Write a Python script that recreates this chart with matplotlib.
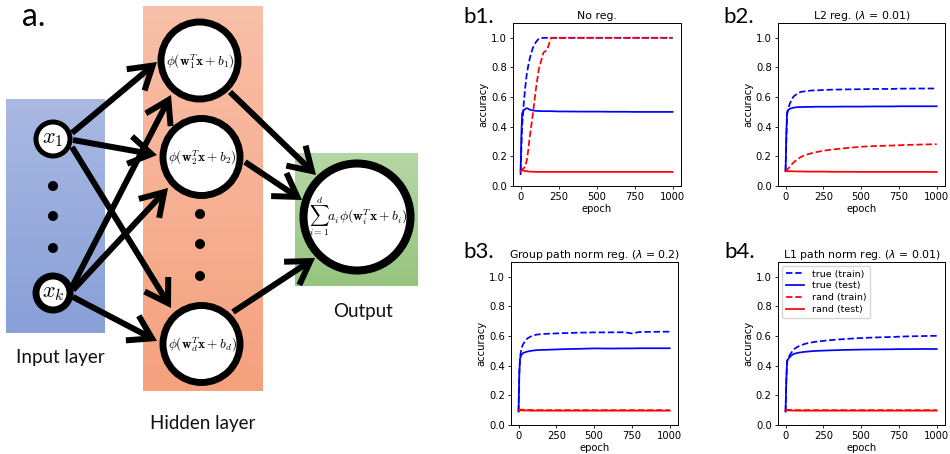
import numpy as np
import matplotlib
matplotlib.use("Agg")
import matplotlib.pyplot as plt
from matplotlib.patches import Circle, FancyArrowPatch

# ---------------- data ----------------
epochs = [0, 5, 10, 20, 30, 40, 50, 60, 80, 100, 120, 150, 175, 200, 250, 300,
          400, 500, 600, 700, 750, 800, 900, 1000]

b1_true_train = [0.10, 0.25, 0.40, 0.55, 0.66, 0.75, 0.81, 0.86, 0.93, 0.97, 0.995, 1.0, 1.0, 1.0,
                 1.0, 1.0, 1.0, 1.0, 1.0, 1.0, 1.0, 1.0, 1.0, 1.0]
b1_true_test = [0.08, 0.35, 0.49, 0.51, 0.52, 0.525, 0.522, 0.515, 0.51, 0.507, 0.506, 0.505, 0.505,
                0.505, 0.503, 0.503, 0.502, 0.502, 0.501, 0.501, 0.500, 0.500, 0.500, 0.500]
b1_rand_train = [0.10, 0.10, 0.11, 0.12, 0.13, 0.17, 0.24, 0.33, 0.48, 0.65, 0.79, 0.90, 0.92, 1.0,
                 1.0, 1.0, 1.0, 1.0, 1.0, 1.0, 1.0, 1.0, 1.0, 1.0]
b1_rand_test = [0.10, 0.105, 0.105, 0.105, 0.10, 0.10, 0.098, 0.097, 0.096, 0.096, 0.095, 0.095, 0.095,
                0.095, 0.095, 0.095, 0.095, 0.095, 0.095, 0.095, 0.095, 0.095, 0.095, 0.095]

b2_true_train = [0.10, 0.30, 0.48, 0.53, 0.56, 0.58, 0.60, 0.61, 0.625, 0.635, 0.638, 0.642, 0.645,
                 0.645, 0.648, 0.65, 0.652, 0.653, 0.655, 0.655, 0.657, 0.657, 0.658, 0.658]
b2_true_test = [0.10, 0.35, 0.50, 0.515, 0.522, 0.525, 0.528, 0.53, 0.532, 0.533, 0.533, 0.534, 0.534,
                0.535, 0.535, 0.535, 0.536, 0.536, 0.537, 0.537, 0.538, 0.538, 0.538, 0.538]
b2_rand_train = [0.10, 0.10, 0.11, 0.12, 0.13, 0.145, 0.155, 0.165, 0.18, 0.195, 0.205, 0.215, 0.222,
                 0.228, 0.238, 0.245, 0.256, 0.265, 0.27, 0.273, 0.275, 0.277, 0.28, 0.282]
b2_rand_test = [0.10, 0.10, 0.10, 0.10, 0.10, 0.099, 0.099, 0.099, 0.098, 0.098, 0.098, 0.097, 0.097,
                0.097, 0.097, 0.096, 0.096, 0.095, 0.095, 0.095, 0.095, 0.095, 0.095, 0.095]

b3_true_train = [0.09, 0.35, 0.46, 0.52, 0.545, 0.56, 0.575, 0.585, 0.597, 0.605, 0.61, 0.613, 0.615,
                 0.616, 0.618, 0.62, 0.623, 0.625, 0.625, 0.626, 0.618, 0.628, 0.629, 0.63]
b3_true_test = [0.09, 0.35, 0.45, 0.475, 0.485, 0.49, 0.493, 0.496, 0.50, 0.503, 0.505, 0.507, 0.507,
                0.508, 0.51, 0.512, 0.514, 0.517, 0.516, 0.517, 0.517, 0.518, 0.518, 0.518]
b3_rand_train = [0.10, 0.105, 0.104, 0.103, 0.103, 0.102, 0.102, 0.101, 0.101, 0.101, 0.101, 0.10, 0.10,
                 0.10, 0.10, 0.10, 0.10, 0.10, 0.10, 0.10, 0.10, 0.10, 0.10, 0.10]
b3_rand_test = [0.10, 0.10, 0.099, 0.099, 0.098, 0.098, 0.098, 0.098, 0.097, 0.097, 0.097, 0.097, 0.097,
                0.097, 0.097, 0.097, 0.097, 0.097, 0.097, 0.097, 0.097, 0.097, 0.097, 0.097]

b4_true_train = [0.09, 0.30, 0.43, 0.46, 0.475, 0.49, 0.505, 0.515, 0.528, 0.537, 0.545, 0.553, 0.558,
                 0.562, 0.568, 0.573, 0.581, 0.587, 0.591, 0.594, 0.596, 0.598, 0.60, 0.602]
b4_true_test = [0.09, 0.30, 0.43, 0.45, 0.46, 0.47, 0.477, 0.481, 0.487, 0.49, 0.493, 0.496, 0.498,
                0.50, 0.502, 0.504, 0.507, 0.509, 0.51, 0.511, 0.512, 0.512, 0.513, 0.513]
b4_rand_train = [0.10, 0.104, 0.103, 0.102, 0.102, 0.101, 0.101, 0.101, 0.10, 0.10, 0.10, 0.10, 0.10,
                 0.10, 0.10, 0.10, 0.10, 0.10, 0.10, 0.10, 0.10, 0.10, 0.10, 0.10]
b4_rand_test = [0.10, 0.10, 0.099, 0.098, 0.098, 0.098, 0.097, 0.097, 0.097, 0.097, 0.097, 0.097, 0.097,
                0.097, 0.097, 0.097, 0.097, 0.097, 0.097, 0.097, 0.097, 0.097, 0.097, 0.097]

panel_titles = ["No reg.", r"L2 reg. ($\lambda$ = 0.01)",
                r"Group path norm reg. ($\lambda$ = 0.2)", r"L1 path norm reg. ($\lambda$ = 0.01)"]
panel_tags = ["b1.", "b2.", "b3.", "b4."]
series_labels = ["true (train)", "true (test)", "rand (train)", "rand (test)"]
xtick_vals = [0, 250, 500, 750, 1000]
ytick_vals = [0.0, 0.2, 0.4, 0.6, 0.8, 1.0]

panels = [
    (b1_true_train, b1_true_test, b1_rand_train, b1_rand_test),
    (b2_true_train, b2_true_test, b2_rand_train, b2_rand_test),
    (b3_true_train, b3_true_test, b3_rand_train, b3_rand_test),
    (b4_true_train, b4_true_test, b4_rand_train, b4_rand_test),
]

# ---------------- figure ----------------
W, H = 950, 454
fig = plt.figure(figsize=(W / 100, H / 100), dpi=100)

# ======== diagram (panel a) in pixel coordinates ========
ax = fig.add_axes([0, 0, 440 / W, 1])
ax.set_xlim(0, 440)
ax.set_ylim(454, 0)
ax.axis("off")

def grad_rect(x0, y0, x1, y1, ctop, cbot):
    ctop = np.array(matplotlib.colors.to_rgb(ctop))
    cbot = np.array(matplotlib.colors.to_rgb(cbot))
    t = np.linspace(0, 1, 200)[:, None]
    img = (ctop[None, :] * (1 - t) + cbot[None, :] * t)[:, None, :]
    ax.imshow(img, extent=(x0, x1, y1, y0), origin="upper", aspect="auto",
              interpolation="bilinear", zorder=0)

grad_rect(6, 99, 105, 333, "#a9b9e2", "#889fd8")
grad_rect(143, 6, 263, 391, "#f8c0a8", "#f5a17e")
grad_rect(295, 153, 418, 286, "#b6d7a6", "#96c57f")
ax.set_xlim(0, 440)
ax.set_ylim(454, 0)

arrows = [
    ((72, 133), (157, 62)),
    ((73, 140), (157, 155)),
    ((72, 147), (171, 308)),
    ((72, 287), (171, 95)),
    ((73, 290), (168, 188)),
    ((73, 297), (157, 341)),
    ((230, 92), (316, 175)),
    ((245, 162), (302, 200)),
    ((233, 312), (315, 258)),
]
for s, e in arrows:
    ax.add_patch(FancyArrowPatch(s, e, arrowstyle="->,head_length=0.8,head_width=0.5",
                                 mutation_scale=20, lw=4.3, color="black",
                                 shrinkA=0, shrinkB=0, zorder=2, capstyle="butt",
                                 joinstyle="miter"))

nodes_in = [((53, 139), 17, 3.6, r"$x_1$"), ((53, 293), 17, 5.0, r"$x_k$")]
for (c, r, lw, lab) in nodes_in:
    ax.add_patch(Circle(c, r, facecolor="white", edgecolor="black", lw=lw, zorder=3))
    ax.text(c[0], c[1], lab, ha="center", va="center", fontsize=16, zorder=4,
            math_fontfamily="cm")

hidden = [((199.5, 60.5), r"$\phi(\mathbf{w}_1^T\mathbf{x}+b_1)$"),
          ((201.5, 157), r"$\phi(\mathbf{w}_2^T\mathbf{x}+b_2)$"),
          ((201.5, 344), r"$\phi(\mathbf{w}_d^T\mathbf{x}+b_d)$")]
for c, lab in hidden:
    ax.add_patch(Circle(c, 38.5, facecolor="white", edgecolor="black", lw=5, zorder=3))
    ax.text(c[0] + 0.5, c[1] + 1, lab, ha="center", va="center", fontsize=9.6, zorder=4,
            math_fontfamily="cm")

out_c = Circle((357, 217), 53.5, facecolor="white", edgecolor="black", lw=5.8, zorder=3)
ax.add_patch(out_c)
t = ax.text(309, 217, r"$\sum_{i=1}^{d}a_i\phi(\mathbf{w}_i^T\mathbf{x}+b_i)$", ha="left",
            va="center", fontsize=9.8, zorder=3.5, math_fontfamily="cm")
t.set_clip_path(Circle((357, 217), 50, transform=ax.transData))

for (x, y) in [(53, 186), (53, 216), (53, 248), (200, 214), (200, 244), (200, 276)]:
    ax.add_patch(Circle((x, y), 5, facecolor="black", edgecolor="none", zorder=3))

lab_font = ["Lato", "DejaVu Sans"]
ax.text(22, 26, "a.", fontsize=23, family=lab_font, ha="left", va="baseline")
ax.text(60, 358, "Input layer", fontsize=13.5, family=lab_font, ha="center", va="center",
        color="#111111")
ax.text(203, 423, "Hidden layer", fontsize=13.5, family=lab_font, ha="center", va="center",
        color="#111111")
ax.text(363, 312, "Output", fontsize=13.5, family=lab_font, ha="center", va="center",
        color="#111111")

# ======== accuracy panels ========
boxes = [(513, 23, 681, 186), (778, 23, 945, 186), (511, 262, 678, 425), (778, 262, 945, 425)]
tag_pos = [(463, 23), (723, 23), (463, 258), (724, 258)]
styles = [("b", "--"), ("b", "-"), ("r", "--"), ("r", "-")]
fs = 7.2
for i, (x0, y0, x1, y1) in enumerate(boxes):
    a = fig.add_axes([x0 / W, 1 - y1 / H, (x1 - x0) / W, (y1 - y0) / H])
    for ser, (col, ls), lab in zip(panels[i], styles, series_labels):
        a.plot(epochs, ser, color=col, ls=ls, lw=1.25, label=lab)
    a.set_xlim(-50, 1055)
    a.set_ylim(0, 1.1)
    a.set_xticks(xtick_vals)
    a.set_yticks(ytick_vals)
    a.tick_params(labelsize=fs, length=2.5, width=0.6, pad=2)
    for sp in a.spines.values():
        sp.set_linewidth(0.7)
    a.set_xlabel("epoch", fontsize=fs, labelpad=1)
    a.set_ylabel("accuracy", fontsize=fs, labelpad=2)
    a.set_title(panel_titles[i], fontsize=7.8, pad=3, math_fontfamily="dejavusans")
    fig.text(tag_pos[i][0] / W, 1 - tag_pos[i][1] / H, panel_tags[i], fontsize=16,
             family=lab_font, ha="left", va="baseline")
    if i == 3:
        a.legend(loc="upper left", fontsize=6.8, handlelength=2.0, borderpad=0.4,
                 labelspacing=0.3, borderaxespad=0.4, framealpha=0.8)

fig.savefig("out.png", dpi=100)
